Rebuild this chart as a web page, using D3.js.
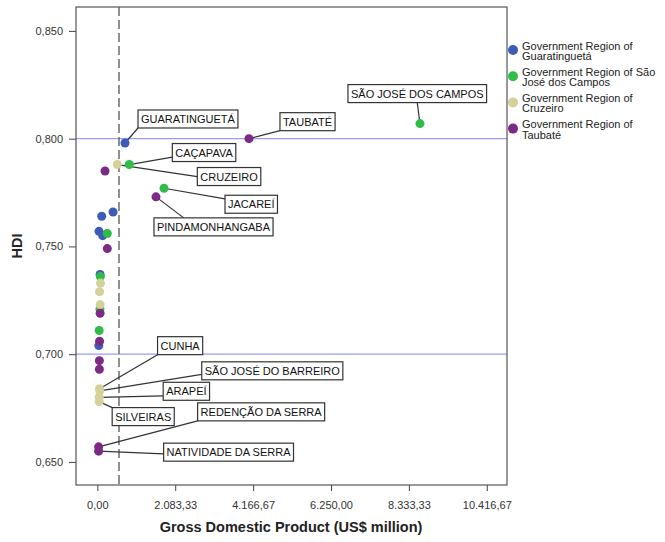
<!DOCTYPE html>
<html><head><meta charset="utf-8">
<script src="https://cdn.jsdelivr.net/npm/d3@7"></script>
<style>
html,body{margin:0;padding:0;background:#fff;}
svg{display:block;font-family:Arial,"Liberation Sans",sans-serif;}
</style></head>
<body>
<svg id="chart" width="665" height="542"></svg>
<script>
// ---------- DATA ----------
const regions = [
  "Government Region of Guaratinguetá",
  "Government Region of São José dos Campos",
  "Government Region of Cruzeiro",
  "Government Region of Taubaté"
];
const legendLines = [
  ["Government Region of", "Guaratinguetá"],
  ["Government Region of São", "José dos Campos"],
  ["Government Region of", "Cruzeiro"],
  ["Government Region of", "Taubaté"]
];
// region index, GDP (US$ million), HDI, label
const pointRegion = [0,0,0,0,0,0,0, 1,1,1,1,1,1,1, 2,2,2,2,2,2,2,2, 3,3,3,3,3,3,3,3,3,3];
const pointGdp = [
  741, 421, 118, 45, 144, 75, 40,
  8629, 856, 1784, 267, 80, 70, 50,
  535, 85, 60, 75, 60, 65, 50, 50,
  4056, 1569, 206, 267, 75, 60, 55, 55, 35, 35
];
const pointHdi = [
  0.798, 0.766, 0.764, 0.757, 0.755, 0.737, 0.704,
  0.807, 0.788, 0.777, 0.756, 0.736, 0.721, 0.711,
  0.788, 0.733, 0.729, 0.723, 0.684, 0.683, 0.680, 0.678,
  0.800, 0.773, 0.785, 0.749, 0.719, 0.706, 0.697, 0.693, 0.657, 0.655
];
const pointName = [
  "GUARATINGUETÁ", "", "", "", "", "", "",
  "SÃO JOSÉ DOS CAMPOS", "CAÇAPAVA", "JACAREÍ", "", "", "", "",
  "CRUZEIRO", "", "", "", "CUNHA", "SÃO JOSÉ DO BARREIRO", "ARAPEÍ", "SILVEIRAS",
  "TAUBATÉ", "PINDAMONHANGABA", "", "", "", "", "", "", "REDENÇÃO DA SERRA", "NATIVIDADE DA SERRA"
];
const xTickValues = [0, 2083.33, 4166.67, 6250, 8333.33, 10416.67];
const xTickLabels = ["0,00", "2.083,33", "4.166,67", "6.250,00", "8.333,33", "10.416,67"];
const yTickValues = [0.65, 0.70, 0.75, 0.80, 0.85];
const yTickLabels = ["0,650", "0,700", "0,750", "0,800", "0,850"];
const hdiRefLines = [0.700, 0.800];
const gdpMeanLine = 580;

// ---------- STYLE / LAYOUT ----------
const regionColors = ["#3d5bb8", "#2fbd4a", "#d6d09a", "#7d2a85"];
// label box offset from point (px) and leader anchor as fraction of box
const labelLayout = {
  "GUARATINGUETÁ": [13, -33, 0, 1],
  "TAUBATÉ": [31, -26, 0, 1],
  "SÃO JOSÉ DOS CAMPOS": [-72, -39, 0.5, 1],
  "CAÇAPAVA": [43, -21, 0, 0.75],
  "CRUZEIRO": [80, 3, 0, 0.5],
  "JACAREÍ": [61, 7, 0, 0.2],
  "PINDAMONHANGABA": [-2, 21, 0.25, 0],
  "CUNHA": [58, -52, 0, 1],
  "SÃO JOSÉ DO BARREIRO": [102, -29, 0, 0.7],
  "ARAPEÍ": [64, -15, 0, 0.75],
  "SILVEIRAS": [13, 6, 0, 0],
  "REDENÇÃO DA SERRA": [99, -44, 0, 1],
  "NATIVIDADE DA SERRA": [65, -8, 0, 0.6]
};
const plot = {left: 76, right: 507, top: 7, bottom: 485};

const svg = d3.select("#chart");
svg.append("rect").attr("width", 665).attr("height", 542).attr("fill", "#fff");

const x = d3.scaleLinear().domain([-570, 10957]).range([plot.left, plot.right]);
const y = d3.scaleLinear().domain([0.6393, 0.8611]).range([plot.bottom, plot.top]);

const pts = pointGdp.map((g, i) => ({gdp: g, hdi: pointHdi[i], r: pointRegion[i], name: pointName[i]}));

// axes
const xAxis = d3.axisBottom(x).tickValues(xTickValues).tickSize(6)
  .tickFormat((d, i) => xTickLabels[i]);
const gx = svg.append("g").attr("transform", `translate(0,${plot.bottom})`).call(xAxis);
gx.select(".domain").remove();
gx.selectAll("line").attr("stroke", "#444");
gx.selectAll("text").attr("font-size", 11).attr("fill", "#333").attr("dy", "1.35em")
  .attr("font-family", "Arial, 'Liberation Sans', sans-serif");

const yAxis = d3.axisLeft(y).tickValues(yTickValues).tickSize(7)
  .tickFormat((d, i) => yTickLabels[i]);
const gy = svg.append("g").attr("transform", `translate(${plot.left},0)`).call(yAxis);
gy.select(".domain").remove();
gy.selectAll("line").attr("stroke", "#444");
gy.selectAll("text").attr("font-size", 11).attr("fill", "#333").attr("x", -13)
  .attr("font-family", "Arial, 'Liberation Sans', sans-serif");

// reference lines
svg.selectAll(".href").data(hdiRefLines).join("line")
  .attr("x1", plot.left).attr("x2", plot.right)
  .attr("y1", d => y(d)).attr("y2", d => y(d))
  .attr("stroke", "#9a9cf5").attr("stroke-width", 1.2);
svg.append("line")
  .attr("x1", x(gdpMeanLine)).attr("x2", x(gdpMeanLine))
  .attr("y1", plot.top).attr("y2", plot.bottom)
  .attr("stroke", "#555").attr("stroke-width", 1.3).attr("stroke-dasharray", "9,4");

// frame
svg.append("rect").attr("x", plot.left).attr("y", plot.top)
  .attr("width", plot.right - plot.left).attr("height", plot.bottom - plot.top)
  .attr("fill", "none").attr("stroke", "#555").attr("stroke-width", 1.2);

// labels (measure first)
const labelled = pts.filter(p => p.name);
const lineG = svg.append("g");
const dotG = svg.append("g");
const boxG = svg.append("g");

labelled.forEach(p => {
  const [dx, dy, ax, ay] = labelLayout[p.name];
  const px = x(p.gdp), py = y(p.hdi);
  const g = boxG.append("g");
  const t = g.append("text").text(p.name).attr("font-size", 11).attr("fill", "#111")
    .attr("font-family", "Arial, 'Liberation Sans', sans-serif");
  const w = t.node().getComputedTextLength() + 6;
  const h = 18;
  const bx = px + dx, by = py + dy;
  g.insert("rect", "text").attr("x", bx).attr("y", by).attr("width", w).attr("height", h)
    .attr("fill", "#fff").attr("stroke", "#333").attr("stroke-width", 1.2);
  t.attr("x", bx + 3).attr("y", by + 13);
  lineG.append("line").attr("x1", px).attr("y1", py)
    .attr("x2", bx + ax * w).attr("y2", by + ay * h)
    .attr("stroke", "#333").attr("stroke-width", 1.2);
});

// points
dotG.selectAll("circle").data(pts).join("circle")
  .attr("cx", d => x(d.gdp)).attr("cy", d => y(d.hdi)).attr("r", 4.5)
  .attr("fill", d => regionColors[d.r]);

// axis titles
svg.append("text").attr("x", 291).attr("y", 532).attr("text-anchor", "middle")
  .attr("font-size", 14.5).attr("font-weight", "bold").attr("fill", "#222")
  .text("Gross Domestic Product (US$ million)");
svg.append("text").attr("transform", "translate(22,246) rotate(-90)").attr("text-anchor", "middle")
  .attr("font-size", 14.5).attr("font-weight", "bold").attr("fill", "#222").text("HDI");

// legend
const lg = svg.append("g");
legendLines.forEach((lines, i) => {
  const cy = 50 + i * 26.2;
  lg.append("circle").attr("cx", 513).attr("cy", cy).attr("r", 5).attr("fill", regionColors[i]);
  const t = lg.append("text").attr("x", 522).attr("y", cy - 0.5).attr("font-size", 11).attr("fill", "#222");
  t.append("tspan").attr("x", 522).text(lines[0]);
  t.append("tspan").attr("x", 522).attr("dy", 10.5).text(lines[1]);
});
</script>
</body></html>
